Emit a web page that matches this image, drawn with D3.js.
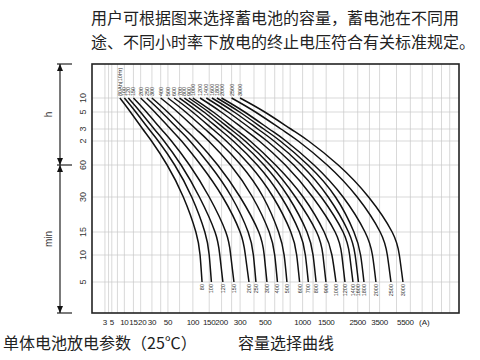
<!DOCTYPE html>
<html lang="zh">
<head>
<meta charset="UTF-8">
<title>容量选择曲线</title>
<script src="https://d3js.org/d3.v7.min.js"></script>
<style>
  body { margin: 0; background: #fff; }
  svg text { font-family: "Liberation Sans", Arial, sans-serif; }
  svg .cjk { font-family: "Noto Sans CJK SC", sans-serif; }
</style>
</head>
<body>
<div id="chart"></div>
<script>
// discharge time ticks (minutes) and their printed labels
const timeTicks = [600, 300, 180, 120, 60, 30, 15, 10, 5];
const timeLabels = ["10", "5", "3", "2", "60", "30", "15", "10", "5"];

// current axis (A)
const currentTicks = [3, 5, 10, 15, 20, 30, 50, 100, 150, 200, 300, 500, 1000, 1500, 2500, 3500, 5500];
const currentGrid = [3, 4, 5, 7, 10, 15, 20, 30, 40, 50, 70, 100, 150, 200, 250, 300, 400, 500,
  600, 700, 800, 1000, 1200, 1500, 2000, 2500, 3000, 3500, 4500, 5500, 6500, 7500, 8500, 9500];

// battery capacities (Ah)
const capacities = [80, 100, 120, 150, 200, 250, 300, 400, 500, 600, 700, 800, 900, 1000,
  1200, 1400, 1600, 1800, 2000, 2500, 3000];

// discharge current (A) at each time tick, one row per capacity
const dischargeA = [
  [8, 13.2, 21.6, 29.6, 48.8, 77.6, 108, 120, 126],
  [10, 16.5, 27, 37, 61, 97, 135, 150, 158],
  [12, 19.8, 32.4, 44.4, 73, 118, 172, 192, 206],
  [15, 24.8, 40.5, 55.5, 91.5, 150, 220, 245, 263],
  [20, 33, 54, 74, 122, 205, 300, 335, 361],
  [25, 41, 67.5, 92.5, 152, 250, 355, 395, 416],
  [30, 49.5, 81, 111, 183, 300, 440, 490, 517],
  [40, 66, 108, 148, 244, 388, 540, 600, 632],
  [50, 82.5, 135, 185, 305, 480, 645, 716, 754],
  [60, 99, 162, 222, 366, 582, 810, 900, 948],
  [70, 115, 189, 259, 427, 679, 945, 1050, 1106],
  [80, 132, 216, 296, 488, 776, 1080, 1200, 1264],
  [90, 148, 243, 333, 549, 880, 1275, 1420, 1494],
  [100, 165, 270, 370, 610, 1010, 1450, 1650, 1764],
  [120, 198, 324, 444, 732, 1190, 1740, 1940, 2041],
  [140, 231, 378, 518, 854, 1380, 1980, 2200, 2319],
  [160, 264, 432, 592, 976, 1552, 2160, 2400, 2528],
  [180, 297, 486, 666, 1098, 1750, 2355, 2615, 2755],
  [200, 330, 540, 740, 1220, 1980, 2800, 3140, 3311],
  [250, 412, 675, 925, 1525, 2480, 3530, 3930, 4147],
  [300, 495, 810, 1110, 1830, 2960, 4220, 4690, 4943]
];

const W = 480, H = 360;
const plot = { left: 92, top: 64, right: 459, bottom: 313 };

const svg = d3.select("#chart").append("svg")
  .attr("width", W).attr("height", H);

// the printed current axis stretches as it goes right: square of the decade count
const xPow = d3.scalePow().exponent(2)
  .domain([0, 4])
  .range([plot.left + 4.5, plot.left + 334.1]);
const x = a => xPow(Math.log10(a) + 0.163);

// the time axis is hand spaced, so it is piecewise
const y = d3.scaleLog()
  .domain(timeTicks)
  .range([34, 48, 65, 77, 101, 133, 168, 191, 218].map(d => plot.top + d));

// grid
const grid = svg.append("g").attr("stroke", "#c8c8c8").attr("stroke-width", 0.7);
grid.selectAll("line.v")
  .data(currentGrid)
  .join("line")
  .attr("class", "v")
  .attr("x1", d => x(d)).attr("x2", d => x(d))
  .attr("y1", plot.top).attr("y2", plot.bottom);
grid.selectAll("line.h")
  .data(timeTicks)
  .join("line")
  .attr("class", "h")
  .attr("x1", plot.left).attr("x2", plot.right)
  .attr("y1", d => y(d)).attr("y2", d => y(d));

// frame
svg.append("rect")
  .attr("x", plot.left).attr("y", plot.top)
  .attr("width", plot.right - plot.left).attr("height", plot.bottom - plot.top)
  .attr("fill", "none").attr("stroke", "#222").attr("stroke-width", 1.6);

// curves
const line = d3.line()
  .x(d => x(d[0]))
  .y(d => y(d[1]))
  .curve(d3.curveNatural);

svg.append("g").selectAll("path")
  .data(dischargeA)
  .join("path")
  .attr("d", row => line(row.map((a, i) => [a, timeTicks[i]])))
  .attr("fill", "none")
  .attr("stroke", "#111")
  .attr("stroke-width", 1.5);

// capacity labels at the 10 h end
svg.append("g").selectAll("text")
  .data(capacities)
  .join("text")
  .attr("transform", (c, i) => `translate(${x(dischargeA[i][0])},${y(600) - 2}) rotate(-90)`)
  .attr("dy", "0.35em")
  .attr("font-size", 5.5)
  .attr("fill", "#333")
  .text((c, i) => i === 0 ? c + "Ah(10Hr)" : c);

// capacity labels at the 5 min end
svg.append("g").selectAll("text")
  .data(capacities)
  .join("text")
  .attr("transform", (c, i) => `translate(${x(dischargeA[i][8])},${y(5) + 2}) rotate(-90)`)
  .attr("dy", "0.35em")
  .attr("text-anchor", "end")
  .attr("font-size", 5.5)
  .attr("fill", "#333")
  .text(c => c);

// y tick labels
svg.append("g").selectAll("text")
  .data(timeTicks)
  .join("text")
  .attr("transform", d => `translate(${plot.left - 6},${y(d)}) rotate(-90)`)
  .attr("text-anchor", "middle")
  .attr("font-size", 9)
  .attr("fill", "#333")
  .text((d, i) => timeLabels[i]);

// x tick labels (the printed ones are squeezed a little at 20 and 5500)
const labelNudge = { 20: 1.5, 5500: -5 };
svg.append("g").selectAll("text")
  .data(currentTicks)
  .join("text")
  .attr("x", d => x(d) + (labelNudge[d] || 0))
  .attr("y", plot.bottom + 12)
  .attr("text-anchor", "middle")
  .attr("font-size", 8)
  .attr("letter-spacing", -0.3)
  .attr("fill", "#222")
  .text(d => d);
svg.append("text")
  .attr("x", x(5500) + 14).attr("y", plot.bottom + 12)
  .attr("text-anchor", "middle")
  .attr("font-size", 8)
  .attr("fill", "#222")
  .text("(A)");

// h / min span markers
const ax = 60;
const marks = svg.append("g").attr("stroke", "#222").attr("stroke-width", 1.2);
[plot.top, y(60), plot.bottom].forEach(v => {
  marks.append("line").attr("x1", ax - 3).attr("x2", ax + 12).attr("y1", v).attr("y2", v);
});
marks.append("line").attr("x1", ax).attr("x2", ax).attr("y1", plot.top).attr("y2", plot.bottom);
const arrow = (yy, dir) => `M${ax},${yy} L${ax - 3},${yy + dir * 7} L${ax + 3},${yy + dir * 7} Z`;
[[plot.top, 1], [y(60), -1], [y(60), 1], [plot.bottom, -1]].forEach(([yy, dir]) => {
  svg.append("path").attr("d", arrow(yy, dir)).attr("fill", "#111");
});
svg.append("text")
  .attr("transform", `translate(52,${(plot.top + y(60)) / 2}) rotate(-90)`)
  .attr("text-anchor", "middle").attr("font-size", 10).attr("fill", "#333")
  .text("h");
svg.append("text")
  .attr("transform", `translate(52,${(y(60) + plot.bottom) / 2}) rotate(-90)`)
  .attr("text-anchor", "middle").attr("font-size", 10).attr("fill", "#333")
  .text("min");

// captions
svg.append("text").attr("class", "cjk")
  .attr("x", 91).attr("y", 24).attr("font-size", 16).attr("fill", "#222")
  .text("用户可根据图来选择蓄电池的容量，蓄电池在不同用");
svg.append("text").attr("class", "cjk")
  .attr("x", 91).attr("y", 48).attr("font-size", 16).attr("fill", "#222")
  .text("途、不同小时率下放电的终止电压符合有关标准规定。");
svg.append("text").attr("class", "cjk")
  .attr("x", 3).attr("y", 349).attr("font-size", 16).attr("fill", "#222")
  .text("单体电池放电参数（25℃）");
svg.append("text").attr("class", "cjk")
  .attr("x", 238).attr("y", 349).attr("font-size", 16).attr("fill", "#222")
  .text("容量选择曲线");
</script>
</body>
</html>
